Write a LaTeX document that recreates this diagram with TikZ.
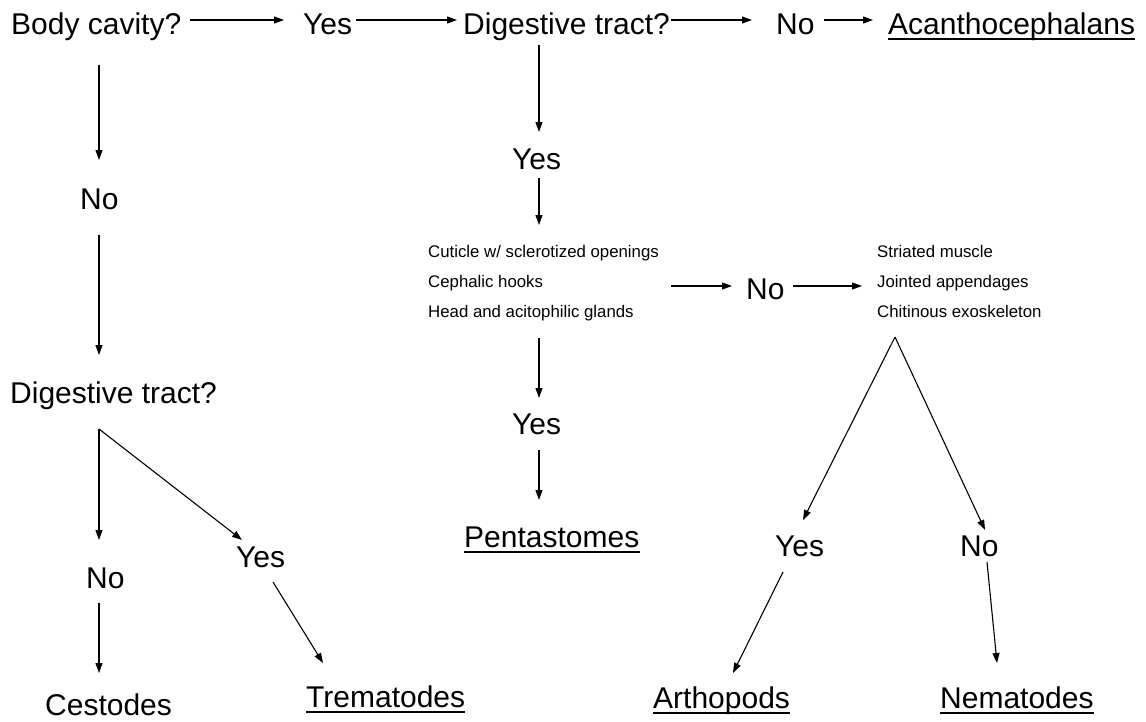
\documentclass[tikz,border=0pt]{standalone}
\usepackage{fontspec}
\setmainfont{Liberation Sans}
\usepackage{tikz}
\usetikzlibrary{arrows.meta}
\usetikzlibrary{calc}
\tikzstyle{answer}=[font=\fontsize{30}{36}\selectfont, inner sep=0pt, anchor=base west]
\tikzstyle{traits}=[font=\fontsize{16.8}{30}\selectfont, inner sep=0pt, anchor=base west]
\tikzstyle{link}=[-{Triangle[length=10pt,width=7pt]}, line width=1.1pt]
\tikzstyle{taxonline}=[line width=1.4pt]

\begin{document}
\begin{tikzpicture}[x=1pt, y=-1pt]

   \fill[white] (0,0) rectangle (1146,721);
   \useasboundingbox (0,0) rectangle (1146,721);

    \foreach \pos/\name/\txt in {{(11,34)/cavity/Body cavity?}, {(303,34)/cavyes/Yes}, {(463,34)/digA/Digestive tract?}, {(776,34)/digAno/No}, {(888,34)/acan/Acanthocephalans}, {(80,209)/cavno/No}, {(10,403)/digB/Digestive tract?}, {(86,588)/digBno/No}, {(236,567)/digByes/Yes}, {(45,715)/cest/Cestodes}, {(306,707)/trem/Trematodes}, {(512,169)/digAyes/Yes}, {(746,299)/cutno/No}, {(512,434)/cutyes/Yes}, {(464,547)/pent/Pentastomes}, {(775,556)/stryes/Yes}, {(960,556)/strno/No}, {(653,708)/arth/Arthopods}, {(940,708)/nema/Nematodes}}
        \node[answer] (\name) at \pos {\txt};

    \node[traits] (cuticle) at (428,257) {\vtop{\hbox{Cuticle w/ sclerotized openings}\hbox{Cephalic hooks}\hbox{Head and acitophilic glands}}};
    \node[traits] (striated) at (877,257) {\vtop{\hbox{Striated muscle}\hbox{Jointed appendages}\hbox{Chitinous exoskeleton}}};

    \foreach \name in {acan, trem, pent, arth, nema}
        \draw[taxonline] ([yshift=-5pt]\name.base west) -- ([yshift=-5pt]\name.base east);

% top row
\draw[link] ([shift={(179,-14)}]cavity.base west) -- ([shift={(-19,-14)}]cavyes.base west);
\draw[link] ([shift={(53,-14)}]cavyes.base west) -- ([shift={(-6,-14)}]digA.base west);
\draw[link] ([shift={(208,-14)}]digA.base west) -- ([shift={(-24,-14)}]digAno.base west);
\draw[link] ([shift={(48,-14)}]digAno.base west) -- ([shift={(-15,-14)}]acan.base west);

% left column
\draw[link] ([shift={(88,31)}]cavity.base west) -- ([shift={(19,-49)}]cavno.base west);
\draw[link] ([shift={(19,26)}]cavno.base west) -- ([shift={(89,-48)}]digB.base west);
\coordinate (forkB) at ([shift={(89,26)}]digB.base west);
\draw[link] (forkB) -- ([shift={(13,-48)}]digBno.base west);
\draw[link] (forkB) -- ([shift={(6,-27)}]digByes.base west);
\draw[link] ([shift={(13,15)}]digBno.base west) -- ([shift={(54,-42)}]cest.base west);
\draw[link] ([shift={(37,15)}]digByes.base west) -- ([shift={(17,-44)}]trem.base west);

% middle column
\draw[link] ([shift={(76,11)}]digA.base west) -- ([shift={(27,-37)}]digAyes.base west);
\draw[link] ([shift={(27,9)}]digAyes.base west) -- ([shift={(111,-32)}]cuticle.base west);
\draw[link] ([shift={(243,29)}]cuticle.base west) -- ([shift={(-14,-13)}]cutno.base west);
\draw[link] ([shift={(47,-13)}]cutno.base west) -- ([shift={(-15,29)}]striated.base west);
\draw[link] ([shift={(111,81)}]cuticle.base west) -- ([shift={(27,-36)}]cutyes.base west);
\draw[link] ([shift={(27,16)}]cutyes.base west) -- ([shift={(75,-47)}]pent.base west);

% right column
\coordinate (forkS) at ([shift={(18,80)}]striated.base west);
\draw[link] (forkS) -- ([shift={(28,-36)}]stryes.base west);
\draw[link] (forkS) -- ([shift={(25,-26)}]strno.base west);
\draw[link] ([shift={(8,16)}]stryes.base west) -- ([shift={(80,-35)}]arth.base west);
\draw[link] ([shift={(27,6)}]strno.base west) -- ([shift={(57,-45)}]nema.base west);

\end{tikzpicture}
\end{document}
